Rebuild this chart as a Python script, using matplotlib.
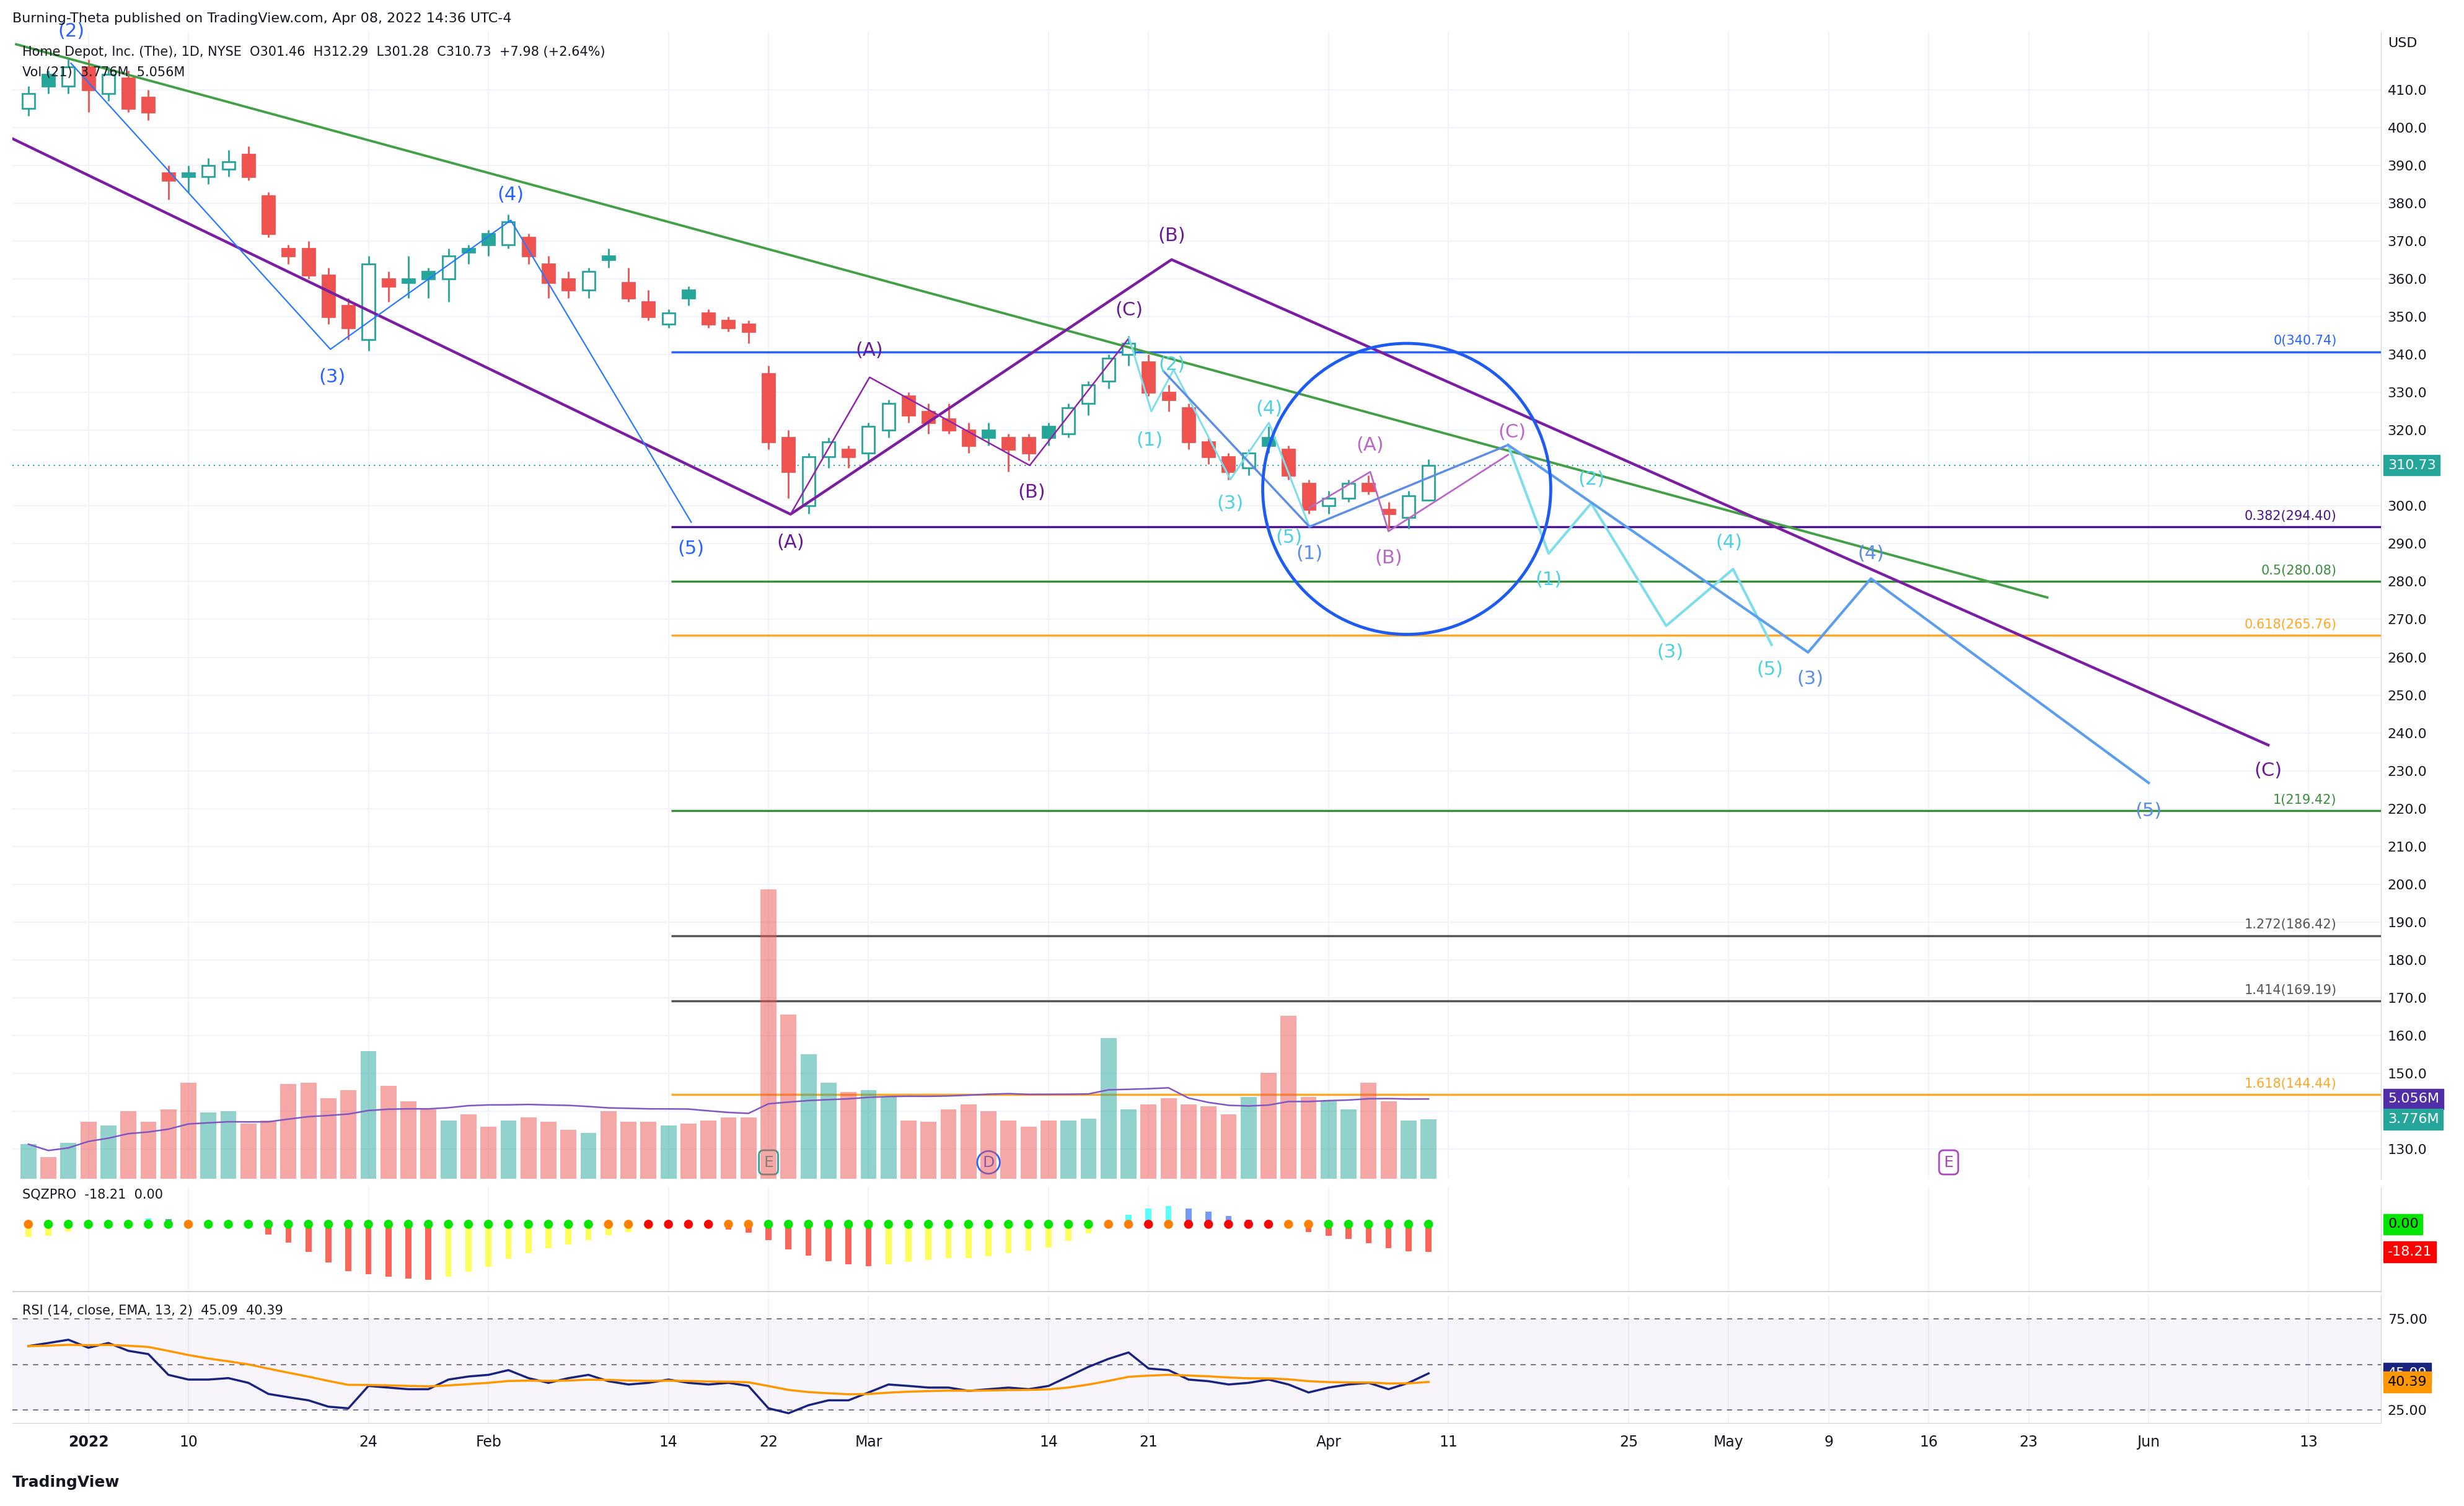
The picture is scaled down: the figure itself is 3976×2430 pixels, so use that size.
import numpy as np
import pandas as pd
import matplotlib
matplotlib.use("Agg")
import matplotlib.pyplot as plt
from matplotlib.patches import Ellipse

# ---------------- data ----------------
opens = [405,414,411,416,409,413,408,388,388,387,389,393,382,368,368,361,353,344,360,360,362,360,368,372,369,371,364,360,357,366,359,354,348,357,351,349,348,335,318,300,313,315,314,320,329,325,323,320,320,318,318,321,319,327,333,340,338,330,326,317,313,310,318,315,306,300,302,306,299,297,301.46]
highs = [411,415,418,418,416,415,410,390,390,392,394,395,383,369,370,363,355,366,362,366,363,368,369,373,377,372,366,362,363,368,363,357,352,358,352,350,349,337,320,314,318,316,322,328,330,327,327,322,322,319,319,322,327,333,340,345,340,332,327,318,314,315,321,316,307,304,307,308,301,304,312.29]
lows  = [403,409,409,404,407,404,402,381,383,385,387,386,371,364,360,348,344,341,354,355,355,354,364,366,368,364,355,355,355,363,354,349,347,353,347,346,343,315,302,298,310,310,312,318,322,319,319,314,316,309,312,316,318,324,331,337,329,325,315,311,307,308,314,307,298,298,301,303,294,294,301.28]
closes= [409,411,416,410,414,405,404,386,387,390,391,387,372,366,361,350,347,364,358,359,360,366,367,369,375,366,359,357,362,365,355,350,351,355,348,347,346,317,309,313,317,313,321,327,324,322,320,316,318,315,314,318,326,332,339,343,330,328,317,313,309,314,316,308,299,302,306,304,298,302.75,310.73]
volume_m = [2.2,1.4,2.3,3.6,3.4,4.3,3.6,4.4,6.1,4.2,4.3,3.5,3.7,6.0,6.1,5.1,5.6,8.1,5.9,4.9,4.4,3.7,4.1,3.3,3.7,3.9,3.6,3.1,2.9,4.3,3.6,3.6,3.4,3.5,3.7,3.9,3.9,18.3,10.4,7.9,6.1,5.5,5.6,5.2,3.7,3.6,4.4,4.7,4.3,3.7,3.3,3.7,3.7,3.8,8.9,4.4,4.7,5.1,4.7,4.6,4.1,5.2,6.7,10.3,5.2,4.9,4.4,6.1,4.9,3.7,3.776]
sqz_mom = [-8.4,-7.6,-4.8,-3.0,-0.3,0.3,3.8,3.3,2.4,0.5,0.3,-2.3,-6.8,-12.2,-18.2,-25.1,-30.8,-32.9,-34.5,-35.7,-36.6,-34.5,-31.3,-28.0,-22.7,-19.0,-15.8,-13.3,-10.3,-7.2,-5.2,-3.5,-1.0,-0.5,-1.0,-3.5,-5.6,-10.5,-16.6,-20.7,-24.3,-26.4,-27.6,-26.4,-24.7,-23.4,-22.3,-22.2,-20.9,-19.0,-17.4,-15.2,-10.9,-6.0,-0.5,6.1,10.3,11.8,10.2,8.2,5.4,2.9,0.3,-0.3,-5.2,-7.6,-9.7,-12.5,-15.8,-17.8,-18.21]
sqz_state = "OGGGGGGGOGGGGGGGGGGGGGGGGGGGGOORRRROOGGGGGGGGGGGGGGGGGOORORRRRROOGGGGGG"
rsi = [60.1,61.8,63.6,59.2,61.8,57.5,55.7,44.3,41.7,41.7,42.5,39.9,33.8,32.0,30.3,26.8,25.9,38.2,37.3,36.4,36.4,41.7,43.4,44.3,46.9,42.5,39.9,42.5,44.3,40.8,39.0,39.9,41.7,39.9,39.0,39.9,38.2,25.9,23.2,27.6,30.3,30.3,34.6,39.0,38.2,37.3,37.3,35.5,36.4,37.3,36.4,38.2,43.4,48.7,53.1,56.6,47.8,46.9,41.7,40.8,39.0,39.9,41.7,39.0,34.6,37.3,39.0,39.9,36.4,39.9,45.09]

fib_levels = [340.74, 294.40, 280.08, 265.76, 219.42, 186.42, 169.19, 144.44]
fib_names = ["0", "0.382", "0.5", "0.618", "1", "1.272", "1.414", "1.618"]
fib_colors = ["#2962ff", "#4a148c", "#388e3c", "#ffa726", "#388e3c", "#555555", "#555555", "#ffa726"]
fib_start = 31.7

green_line = ([-0.6, 99.6], [422, 275.8])
purple_line = ([-0.8, 37.6, 56.4, 110.5], [397.1, 297.8, 365.1, 236.8])
blue_zig = ([2.1, 14.9, 23.8, 32.7], [417, 341.4, 375.5, 295.7])
purple_abc = ([37.6, 41.5, 49.4, 54.3], [297.8, 334, 310.7, 344.4])
cyan_small = ([54.3, 55.4, 56.5, 59.3, 61.2, 63.2], [344.4, 325, 336, 307, 322, 294.5])
blue_mid = ([56.0, 63.2], [335.6, 294.5])
blue_up = ([63.2, 73.0], [294.5, 316.1])
orchid_abc = ([63.2, 66.2, 67.1, 73.0], [299.5, 309, 293.3, 313.5])
cyan_future = ([73.0, 75.0, 77.1, 80.8, 84.1, 86.0], [316.1, 287.4, 300.7, 268.3, 283.3, 263.3])
blue_future = ([73.0, 87.8, 90.9, 104.6], [316.1, 261.3, 280.8, 226.8])

labels = [
    ("(2)", 2.1, 425.4, "#2962ff"), ("(3)", 15.0, 334.0, "#2962ff"), ("(4)", 23.8, 382.2, "#2962ff"),
    ("(5)", 32.7, 288.7, "#2962ff"), ("(A)", 37.6, 290.3, "#6a1b9a"), ("(A)", 41.5, 341.0, "#6a1b9a"),
    ("(B)", 49.5, 303.6, "#6a1b9a"), ("(C)", 54.3, 351.8, "#6a1b9a"), ("(B)", 56.4, 371.4, "#6a1b9a"),
    ("(2)", 56.4, 337.3, "#4dd0e1"), ("(1)", 55.3, 317.4, "#4dd0e1"), ("(3)", 59.3, 300.7, "#4dd0e1"),
    ("(4)", 61.2, 325.7, "#4dd0e1"), ("(5)", 62.2, 291.6, "#4dd0e1"), ("(1)", 63.2, 287.4, "#5c8ee6"),
    ("(A)", 66.2, 316.1, "#ba68c8"), ("(B)", 67.1, 286.2, "#ba68c8"), ("(C)", 73.2, 319.4, "#ba68c8"),
    ("(2)", 77.1, 307.0, "#4dd0e1"), ("(1)", 75.0, 280.4, "#4dd0e1"), ("(3)", 81.0, 261.3, "#4dd0e1"),
    ("(4)", 83.9, 290.3, "#4dd0e1"), ("(5)", 85.9, 256.7, "#4dd0e1"), ("(3)", 87.9, 254.2, "#5c8ee6"),
    ("(4)", 90.9, 287.4, "#5c8ee6"), ("(5)", 104.6, 219.3, "#5c8ee6"), ("(C)", 110.5, 230.1, "#6a1b9a"),
]
circle_center = (68.0, 304.5)
circle_size = (14.4, 76.9)
ANN_SCALE = 12.9 / 12.73  # annotation bar units were measured at a slightly different spacing

tick_labels = ["2022", "10", "24", "Feb", "14", "22", "Mar", "14", "21", "Apr", "11", "25", "May", "9", "16", "23", "Jun", "13"]
tick_dates = ["2022-01-03", "2022-01-10", "2022-01-24", "2022-02-01", "2022-02-14", "2022-02-22", "2022-03-01",
              "2022-03-14", "2022-03-21", "2022-04-01", "2022-04-11", "2022-04-25", "2022-05-02", "2022-05-09",
              "2022-05-16", "2022-05-23", "2022-06-01", "2022-06-13"]
holidays = ["2022-01-17", "2022-02-21", "2022-04-15", "2022-05-30"]
hidden_price_ticks = [140, 310]  # covered by price tags in the reference

# ---------------- setup ----------------
TEAL = "#26a69a"
RED = "#ef5350"
GRID = "#f0f3fa"
TXT = "#131722"

dates = pd.bdate_range("2021-12-29", "2022-07-15")
dates = dates[~dates.isin(pd.to_datetime(holidays))]
date_idx = {d.strftime("%Y-%m-%d"): i for i, d in enumerate(dates)}

def ax_x(v):
    return [t * ANN_SCALE for t in v]

W, H = 3976, 2430
fig = plt.figure(figsize=(W / 100, H / 100), dpi=100)
fig.patch.set_facecolor("white")

def fx(px): return px / 1568
def fy(py): return 1 - py / 958

L, R = fx(8), fx(1515)
ax = fig.add_axes([L, fy(750), R - L, fy(20) - fy(750)])
axv = ax.twinx()
axs = fig.add_axes([L, fy(822), R - L, fy(755) - fy(822)], sharex=ax)
axr = fig.add_axes([L, fy(905), R - L, fy(824) - fy(905)], sharex=ax)

n = len(closes)
x = np.arange(n)
xlim = (-0.79, 117.6)

for a in (ax, axs, axr):
    a.set_facecolor("white")
    for s in a.spines.values():
        s.set_visible(False)
    a.spines["right"].set_visible(True)
    a.spines["right"].set_color("#d1d4dc")
    a.tick_params(axis="both", length=0, labelsize=16, colors=TXT)
    a.yaxis.tick_right()
    a.yaxis.set_label_position("right")
    xt = [date_idx[d] for d in tick_dates]
    a.set_xticks(xt)
    for v in xt:
        a.axvline(v, color=GRID, lw=1.5, zorder=0)
ax.set_xlim(*xlim)

# ---------------- main price ----------------
ax.set_ylim(122.1, 425.4)
yt = np.arange(130, 411, 10)
ax.set_yticks(yt)
ax.set_yticklabels(["" if v in hidden_price_ticks else f"{v:.1f}" for v in yt])
ax.tick_params(axis="y", labelright=True, labelleft=False, pad=8)
for v in yt:
    ax.axhline(v, color=GRID, lw=1.5, zorder=0)
ax.tick_params(axis="x", labelbottom=False)

# volume on twin axis
axv.set_ylim(0, 72.5)
axv.axis("off")
prev = np.r_[closes[0], closes[:-1]]
vcol = [TEAL if c >= o else RED for o, c in zip(opens, closes)]
axv.bar(x, volume_m, width=0.8, color=vcol, alpha=0.5, zorder=1)
vma = pd.Series(volume_m).rolling(21, min_periods=1).mean()
axv.plot(x, vma, color="#7e57c2", lw=1.8, zorder=2)

# candles (hollow style)
for i in range(n):
    o, h, l, c = opens[i], highs[i], lows[i], closes[i]
    col = TEAL if c >= prev[i] else RED
    hollow = c > o
    ax.vlines(i, l, h, color=col, lw=2, zorder=4)
    ax.bar(i, abs(c - o) if abs(c - o) > 0.3 else 0.3, bottom=min(o, c), width=0.62,
           facecolor="white" if hollow else col, edgecolor=col, lw=2, zorder=5)

# fib lines
for lv, nm, cl in zip(fib_levels, fib_names, fib_colors):
    ax.hlines(lv, fib_start * ANN_SCALE, xlim[1], color=cl, lw=2.5, zorder=3)
    ax.text(xlim[1] - 2.2, lv + 1.2, f"{nm}({lv:.2f})", color=cl, fontsize=15, ha="right", va="bottom", zorder=6)

ax.axhline(closes[-1], color=TEAL, lw=1.5, ls=(0, (1, 3)), zorder=2)

for pts, cl, lw in [(green_line, "#43a047", 2.8), (purple_line, "#7b1fa2", 3.2), (blue_zig, "#2979ff", 1.6),
                    (purple_abc, "#8e24aa", 1.8), (cyan_small, "#80deea", 2.2), (blue_mid, "#5c8ee6", 2.5),
                    (blue_up, "#5c8ee6", 2.5), (orchid_abc, "#ba68c8", 2), (cyan_future, "#80deea", 3),
                    (blue_future, "#5c9ded", 3)]:
    ax.plot(ax_x(pts[0]), pts[1], color=cl, lw=lw, zorder=6)
ax.add_patch(Ellipse((circle_center[0] * ANN_SCALE, circle_center[1]), circle_size[0], circle_size[1],
                     fill=False, ec="#1e5bf0", lw=3.5, zorder=7))
for t, xi, yi, cl in labels:
    ax.text(xi * ANN_SCALE, yi, t, color=cl, fontsize=22, ha="center", va="center", zorder=8)

# event markers
for d, t, cl in [("2022-02-22", "E", "#26a69a"), ("2022-03-09", "D", "#2962ff"), ("2022-05-17", "E", "#ab47bc")]:
    ax.text(date_idx[d], 126.5, t, color=cl, fontsize=18, ha="center", va="center", zorder=8,
            bbox=dict(boxstyle="round,pad=0.3" if t == "E" else "circle,pad=0.25", fc="white", ec=cl, lw=2))

# right price tags
def tag(a, y, s, fc, tc="white"):
    a.text(1.003, y, s, transform=a.get_yaxis_transform(), fontsize=16, color=tc, va="center", ha="left",
           bbox=dict(boxstyle="square,pad=0.3", fc=fc, ec=fc), zorder=10, clip_on=False)
tag(ax, closes[-1], f"{closes[-1]:.2f}", TEAL)
tag(ax, 122.1 + (vma.iloc[-1] / 72.5) * 303.3, f"{vma.iloc[-1]:.3f}M", "#512da8")
tag(ax, 122.1 + (volume_m[-1] / 72.5) * 303.3, f"{volume_m[-1]:.3f}M", TEAL)
ax.text(1.003, 0.995, "USD", transform=ax.transAxes, fontsize=16, color=TXT, va="top", ha="left")

# ---------------- SQZPRO ----------------
axs.set_ylim(-44.7, 24.6)
axs.set_yticks([])
sq = np.array(sqz_mom)
sprev = np.r_[sq[0], sq[:-1]]
scol = []
for v, p in zip(sq, sprev):
    if v >= 0:
        scol.append("#00ffff" if v >= p else "#2962ff")
    else:
        scol.append("#ff1100" if v < p else "#ffff00")
axs.bar(x, sq, width=0.3, color=scol, alpha=0.65, zorder=2)
dot_map = {"G": "#00e600", "O": "#ff8000", "R": "#ff0000", "B": "#000000"}
axs.scatter(x, np.zeros(n), s=90, marker="o", c=[dot_map[s] for s in sqz_state], zorder=3)
axs.axhline(-44.7, color="#d1d4dc", lw=3)
tag(axs, 0, "0.00", "#00e600", "black")
tag(axs, sq[-1], f"{sq[-1]:.2f}", "#ff0000")
axs.tick_params(axis="x", labelbottom=False)

# ---------------- RSI ----------------
axr.set_ylim(18, 88)
axr.axhspan(25, 75, color="#7e57c2", alpha=0.06, zorder=0)
for lv in (25, 50, 75):
    axr.axhline(lv, color="#787b86", lw=1.5, ls=(0, (4, 4)), zorder=1)
axr.set_yticks([25, 75])
axr.set_yticklabels(["25.00", "75.00"])
axr.tick_params(axis="y", labelright=True, labelleft=False, pad=8)
rs = pd.Series(rsi)
ema = rs.ewm(span=13, adjust=False).mean()
axr.plot(x, rs, color="#1a237e", lw=2.5, zorder=3)
axr.plot(x, ema, color="#ff9800", lw=2.5, zorder=3)
tag(axr, rsi[-1], f"{rsi[-1]:.2f}", "#1a237e")
tag(axr, ema.iloc[-1], f"{ema.iloc[-1]:.2f}", "#ff9800", "black")
axr.set_xticklabels(tick_labels, fontsize=17)
axr.get_xticklabels()[0].set_fontweight("bold")
axr.tick_params(axis="x", pad=14)
axr.spines["bottom"].set_visible(True)
axr.spines["bottom"].set_color("#d1d4dc")

# ---------------- header texts ----------------
fig.text(fx(8), fy(12), "Burning-Theta published on TradingView.com, Apr 08, 2022 14:36 UTC-4", fontsize=16, color=TXT, va="center")
fig.text(fx(14), fy(33), f"Home Depot, Inc. (The), 1D, NYSE  O{opens[-1]:.2f}  H{highs[-1]:.2f}  L{lows[-1]:.2f}  C{closes[-1]:.2f}  +7.98 (+2.64%)",
         fontsize=15, color=TXT, va="center")
fig.text(fx(14), fy(46), f"Vol (21)  {volume_m[-1]:.3f}M  {vma.iloc[-1]:.3f}M", fontsize=15, color=TXT, va="center")
fig.text(fx(14), fy(760), f"SQZPRO  {sq[-1]:.2f}  0.00", fontsize=15, color=TXT, va="center")
fig.text(fx(14), fy(834), f"RSI (14, close, EMA, 13, 2)  {rsi[-1]:.2f}  {ema.iloc[-1]:.2f}", fontsize=15, color=TXT, va="center")
fig.text(fx(8), fy(943), "TradingView", fontsize=18, color=TXT, va="center", fontweight="bold")

fig.savefig("out.png", dpi=100, facecolor="white")
